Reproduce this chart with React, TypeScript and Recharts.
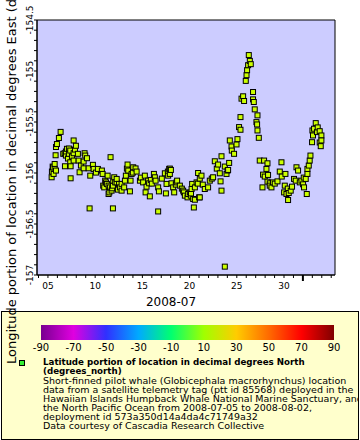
import { ScatterChart, Scatter, XAxis, YAxis, ReferenceArea } from "recharts";

// fractional day of July 2008 (32 = Aug 1)
const dayOfJuly = [
  5.39, 5.42, 5.5, 5.6, 5.71, 5.71, 5.81, 5.85, 5.95, 6.16, 6.34, 6.77, 6.8, 6.9, 7.01, 7.12, 7.22, 7.36, 7.36, 7.4, 7.4, 7.72, 7.72, 7.72, 7.96, 8.17, 8.25,
  8.35, 8.49, 8.78, 8.78, 8.88, 8.95, 9.13, 9.31, 9.41, 9.48, 9.76, 9.84, 10.08, 10.29, 10.71, 10.79, 10.85, 10.96, 11.06, 11.24, 11.32, 11.42, 11.42, 11.5, 11.63, 11.74, 11.8, 11.88, 11.91, 12.02, 12.12,
  12.27, 12.28, 12.53, 12.62, 12.8, 12.8, 13.07, 13.15, 13.25, 13.43, 13.5, 13.68, 13.75, 13.86, 14.03, 14.28, 14.39, 14.74, 15.08, 15.26, 15.34, 15.44, 15.61, 15.72, 15.79, 15.9, 16.22, 16.32, 16.4, 16.67, 16.67, 16.75,
  17.38, 17.49, 17.56, 17.73, 17.84, 17.91, 18.02, 18.09, 18.26, 18.37, 18.62, 18.68, 18.97, 19.32, 19.39, 19.5, 19.78, 19.85, 20.03, 20.21, 20.15, 20.27, 20.38, 20.45, 20.56, 20.74, 20.9, 21.01, 21.08,
  21.26, 21.61, 21.96, 22.14, 22.49, 22.67, 23.02, 23.2, 23.28, 23.38, 23.38, 23.73, 23.91, 24.02, 24.08, 24.19, 24.26, 24.44, 24.71, 24.97, 25.07, 25.24, 25.39, 25.39, 25.5, 25.67, 25.77, 25.95, 26.03, 26.09, 26.2, 26.27, 26.38, 26.48,
  26.72, 26.72, 26.8, 26.9, 27.08, 27.15, 27.19, 27.19, 27.33,
  27.43, 27.72, 27.78, 27.89, 28.14, 28.25, 28.25, 28.31, 28.49, 28.67, 28.84, 29.31, 29.55, 29.73, 30.01, 30.08, 30.15, 30.26, 30.43, 30.5, 30.85, 31.06, 31.32, 31.49, 31.67, 31.85, 32.02, 32.12, 32.3, 32.41, 32.48, 32.48, 32.72, 32.8,
  32.97, 33.01, 33.07, 33.18, 33.36, 33.5, 33.78, 33.96, 33.96, 33.89,
  // overlapping fixes in the dense clusters
  5.53, 5.85, 6.62, 6.9, 7.22, 7.54, 7.86, 11.14, 11.56, 11.88, 12.41, 13.36, 13.99, 14.84, 16.0, 17.06, 17.7, 17.91, 18.54, 19.18,
  20.13, 20.56, 20.87, 21.08, 21.4, 22.35, 22.88, 23.73, 24.47, 27.96, 28.49, 29.02, 29.76, 30.4, 30.71, 31.24, 32.09, 32.62, 33.57, 33.78,
];

// degrees East
const longitude = [
  -156.042, -155.986, -155.937, -156.009, -155.912, -155.96, -155.826, -155.745, -155.716, -155.657, -155.597, -155.806, -155.934, -155.829, -155.763, -155.858, -155.812, -155.78, -155.895, -155.934, -156.052, -155.681, -155.806, -155.878, -155.733, -155.812, -155.878,
  -155.993, -155.927, -155.888, -155.954, -155.806, -155.829, -155.855, -155.954, -156.347, -156.026, -155.92, -155.96, -155.996, -155.96, -155.976, -156.009, -156.124, -156.141, -156.075, -156.107, -156.026, -156.124, -156.206, -156.19, -155.845, -156.173, -156.15, -156.347, -156.075, -156.042, -156.092,
  -156.092, -156.058, -156.107, -156.141, -156.107, -156.173, -156.141, -156.075, -156.026, -155.917, -155.976, -156.18, -156.075, -156.009, -155.944, -155.955, -155.986, -156.075, -156.092, -156.026, -156.19, -156.134, -156.075, -156.101, -156.229, -156.068, -156.009, -156.042, -156.075, -156.141, -156.377, -156.18,
  -156.003, -156.2, -156.107, -156.026, -155.96, -156.009, -155.97, -156.101, -156.141, -156.19, -156.092, -156.075, -156.124, -156.173, -156.19, -156.222, -156.239, -156.206, -156.19, -156.157, -156.2, -156.107, -156.255, -156.338, -156.141, -156.092, -156.0, -156.239, -156.239,
  -156.026, -156.157, -156.141, -156.075, -156.042, -155.885, -155.917, -156.003, -156.082, -156.173, -155.836, -156.918, -156.009, -155.976, -155.97, -155.901, -155.681, -155.74, -155.812, -155.72, -155.668, -155.55, -155.576, -155.452, -155.271, -155.248, -155.294, -155.097, -155.041, -154.992, -154.943, -154.844, -154.901, -154.933,
  -155.206, -155.278, -155.304, -155.376, -155.501, -155.524, -155.435, -155.583, -155.655,
  -155.878, -156.141, -156.016, -155.878, -155.96, -155.905, -156.085, -156.019, -156.101, -156.141, -156.092, -156.082, -155.986, -155.895, -156.19, -156.124, -156.009, -156.206, -156.265, -156.196, -156.134, -156.058, -155.944, -155.976, -156.092, -156.075, -156.111, -156.141, -156.058, -156.206, -156.009, -155.96, -155.878, -155.829,
  -155.698, -155.583, -155.632, -155.566, -155.511, -155.599, -155.59, -155.632, -155.681, -155.737,
  -155.946, -155.976, -155.812, -155.789, -155.76, -155.838, -155.77, -156.092, -156.141, -156.124, -156.163, -155.957, -155.996, -156.045, -156.104, -156.055, -155.986, -155.957, -156.114, -156.153,
  -156.222, -156.262, -156.104, -156.055, -156.114, -156.055, -155.957, -155.937, -155.78, -156.035, -156.124, -156.104, -156.035, -156.153, -156.173, -156.075, -156.045, -155.927, -155.553, -155.701,
];

const xDomain = [3.84, 35.4];
const xTicks = [4, 5, 6, 7, 8, 9, 10, 11, 12, 13, 14, 15, 16, 17, 18, 19, 20, 21, 22, 23, 24, 25, 26, 27, 28, 29, 30, 31, 32, 33, 34, 35];
const xLabelDays = [5, 10, 15, 20, 25, 30];
const monthStartDay = 32;

const yDomain = [-157, -154.5];
const yTicks = [
  -157, -156.9, -156.8, -156.7, -156.6, -156.5, -156.4, -156.3, -156.2, -156.1, -156, -155.9, -155.8,
  -155.7, -155.6, -155.5, -155.4, -155.3, -155.2, -155.1, -155, -154.9, -154.8, -154.7, -154.6, -154.5,
];
const yLabels = [-157, -156.5, -156, -155.5, -155, -154.5];

const colorbarLabels = [-90, -70, -50, -30, -10, 10, 30, 50, 70, 90];
const legendTitle = ["Latitude portion of location in decimal degrees North", "(degrees_north)"];
const legendBody = [
  "Short-finned pilot whale (Globicephala macrorhynchus) location",
  "data from a satellite telemetry tag (ptt id 85568) deployed in the",
  "Hawaiian Islands Humpback Whale National Marine Sanctuary, and",
  "the North Pacific Ocean from 2008-07-05 to 2008-08-02,",
  "deployment id 573a350d14a4da4c71749a32",
  "Data courtesy of Cascadia Research Collective",
];

const data = dayOfJuly
  .map((d, i) => ({ day: d, lon: longitude[i] }))
  .sort((a, b) => a.day - b.day);

const FONT = "'DejaVu Sans', sans-serif";

function XTick(props: any) {
  const { x, y, payload } = props;
  const v = payload.value;
  const isMonth = v === monthStartDay;
  return (
    <g>
      <line x1={x} x2={x} y1={y} y2={y + (isMonth ? 6 : 3)} stroke="#000" strokeWidth={isMonth ? 2 : 1} />
      {xLabelDays.includes(v) && (
        <text x={x} y={y + 14} textAnchor="middle" fontSize={9} fontFamily={FONT} fill="#000">
          {String(v).padStart(2, "0")}
        </text>
      )}
    </g>
  );
}

function YTick(props: any) {
  const { x, y, payload } = props;
  const v = payload.value;
  const major = yLabels.some((m) => Math.abs(m - v) < 1e-6);
  return (
    <g>
      <line x1={x - 3} x2={x} y1={y} y2={y} stroke="#000" />
      {major && (
        <text x={x - 4} y={y} transform={`rotate(-90 ${x - 4} ${y})`} textAnchor="middle" fontSize={9} fontFamily={FONT} fill="#000">
          {String(v)}
        </text>
      )}
    </g>
  );
}

function YTitle() {
  return (
    <text x={16} y={364} transform="rotate(-90 16 364)" textAnchor="start" fontSize={13} fontFamily={FONT} fill="#000">
      Longitude portion of location in decimal degrees East (degrees_east)
    </text>
  );
}

function XTitle() {
  return (
    <text x={171} y={306} textAnchor="middle" fontSize={12} fontFamily={FONT} fill="#000">
      2008-07
    </text>
  );
}

function Marker(props: any) {
  const { cx, cy } = props;
  return <rect x={cx - 2.5} y={cy - 2.5} width={5} height={5} fill="#ccff00" stroke="#000" strokeWidth={1} />;
}

export default function App() {
  return (
    <div style={{ position: "absolute", left: 0, top: 0, width: 360, height: 440, background: "#fff", overflow: "hidden" }}>
      <div
        style={{
          position: "absolute", left: 1, top: 311, width: 358, height: 129, boxSizing: "border-box",
          border: "1px solid #000", background: "#ffffcc", overflow: "hidden", fontFamily: FONT, color: "#000",
        }}
      >
        <div
          style={{
            position: "absolute", left: 39, top: 13, width: 293, height: 15,
            background:
              "linear-gradient(to right, #780090 0%, #e000e0 11.1%, #3030ff 22.2%, #00aaff 33.3%, #00ff70 44.4%, #a0ff00 55.6%, #ffcc00 66.7%, #ff6a00 77.8%, #ff0000 88.9%, #800000 100%)",
          }}
        />
        {colorbarLabels.map((v, i) => (
          <span
            key={v}
            style={{
              position: "absolute", left: 39 + (i * 293) / 9, top: 31, fontSize: 10, lineHeight: "10px",
              transform: "translateX(-50%)", whiteSpace: "nowrap",
            }}
          >
            {v}
          </span>
        ))}
        <div style={{ position: "absolute", left: 17, top: 48, width: 6, height: 6, boxSizing: "border-box", border: "1px solid #000", background: "#33ee33" }} />
        <div style={{ position: "absolute", left: 41, top: 46, whiteSpace: "nowrap" }}>
          {legendTitle.map((t) => (
            <div key={t} style={{ fontWeight: "bold", fontSize: 8.7, lineHeight: "9px", height: 9 }}>{t}</div>
          ))}
          {legendBody.map((t) => (
            <div key={t} style={{ fontSize: 9.5, lineHeight: "9px", height: 9 }}>{t}</div>
          ))}
        </div>
      </div>
      <div style={{ position: "absolute", left: 0, top: 0 }}>
        <ScatterChart width={360} height={440} margin={{ top: 20, right: 25, left: 0, bottom: 128 }}>
          <ReferenceArea x1={xDomain[0]} x2={xDomain[1]} y1={yDomain[0]} y2={yDomain[1]} fill="#ccccff" fillOpacity={1} stroke="#000" strokeWidth={1} />
          <XAxis
            type="number" dataKey="day" domain={xDomain} ticks={xTicks} interval={0} height={37}
            tickSize={0} tickMargin={0} tickLine={false} axisLine={{ stroke: "#000" }} tick={<XTick />}
            allowDataOverflow label={<XTitle />}
          />
          <YAxis
            type="number" dataKey="lon" domain={yDomain} ticks={yTicks} interval={0} width={37}
            tickSize={0} tickMargin={0} tickLine={false} axisLine={{ stroke: "#000" }} tick={<YTick />}
            allowDataOverflow label={<YTitle />}
          />
          <Scatter data={data} shape={<Marker />} isAnimationActive={false} />
        </ScatterChart>
      </div>
    </div>
  );
}
